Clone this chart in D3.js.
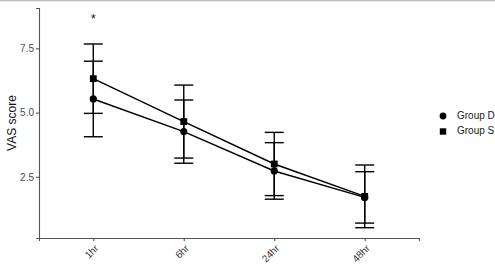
<!doctype html>
<html>
<head>
<meta charset="utf-8">
<title>VAS score</title>
<script src="https://cdnjs.cloudflare.com/ajax/libs/d3/7.8.5/d3.min.js"></script>
<style>
  body { margin: 0; background: #fff; }
  svg { display: block; font-family: "Liberation Sans", Arial, sans-serif; }
</style>
</head>
<body>
<div id="chart"></div>
<script>
// time points
const times = ['1hr', '6hr', '24hr', '48hr'];
// group means and sd
const groupD = [5.53, 4.26, 2.73, 1.70];
const groupDsd = [1.47, 1.23, 1.10, 1.00];
const groupS = [6.32, 4.65, 3.00, 1.74];
const groupSsd = [1.35, 1.42, 1.23, 1.22];
const yTicks = [2.5, 5.0, 7.5];
const starAt = { time: '1hr', value: 8.62 };

const width = 495, height = 269;
const svg = d3.select('#chart').append('svg')
  .attr('width', width).attr('height', height);

// grey border line at the very top of the image
svg.append('line').attr('x1', 0).attr('x2', width).attr('y1', 0.5).attr('y2', 0.5)
  .attr('stroke', '#bdbdbd').attr('stroke-width', 1.5);

const m = { left: 39, right: 419, top: 8, bottom: 238 };

const x = d3.scalePoint().domain(times).range([m.left, m.right]).padding(0.6);
const y = d3.scaleLinear().domain([0.12, 9.07]).range([m.bottom, m.top]);

// axes
const yAxis = svg.append('g').attr('transform', `translate(${m.left},0)`)
  .call(d3.axisLeft(y).tickValues(yTicks).tickFormat(d3.format('.1f')).tickSize(3).tickPadding(2));
const xAxis = svg.append('g').attr('transform', `translate(0,${m.bottom})`)
  .call(d3.axisBottom(x).tickSize(3).tickFormat(''));
[yAxis, xAxis].forEach(g => {
  g.select('.domain').attr('stroke', '#555').attr('stroke-width', 1.1);
  g.selectAll('.tick line').attr('stroke', '#555').attr('stroke-width', 1.1);
});
yAxis.selectAll('.tick text').attr('fill', '#4d4d4d').style('font-size', '10px');

// rotated x labels
svg.selectAll('.xlab').data(times).join('text')
  .attr('class', 'xlab')
  .attr('transform', d => `translate(${x(d) + 4},${m.bottom + 9}) rotate(-45)`)
  .attr('text-anchor', 'end')
  .attr('dominant-baseline', 'middle')
  .attr('fill', '#3a3a3a')
  .style('font-size', '10px')
  .text(d => d);

// y title
svg.append('text')
  .attr('transform', `translate(16,${(m.top + m.bottom) / 2}) rotate(-90)`)
  .attr('text-anchor', 'middle')
  .style('font-size', '12px')
  .attr('fill', '#111')
  .text('VAS score');

const series = [
  { name: 'Group D', mean: groupD, sd: groupDsd, shape: 'circle' },
  { name: 'Group S', mean: groupS, sd: groupSsd, shape: 'square' }
];

const capW = 9.5;
series.forEach(s => {
  const g = svg.append('g');
  // error bars
  times.forEach((t, i) => {
    const lo = y(s.mean[i] - s.sd[i]), hi = y(s.mean[i] + s.sd[i]);
    g.append('line').attr('x1', x(t)).attr('x2', x(t)).attr('y1', lo).attr('y2', hi)
      .attr('stroke', '#000').attr('stroke-width', 1.4);
    [lo, hi].forEach(v => g.append('line')
      .attr('x1', x(t) - capW).attr('x2', x(t) + capW).attr('y1', v).attr('y2', v)
      .attr('stroke', '#000').attr('stroke-width', 1.4));
  });
  // connecting line
  g.append('path')
    .datum(times.map((t, i) => [x(t), y(s.mean[i])]))
    .attr('d', d3.line())
    .attr('fill', 'none').attr('stroke', '#000').attr('stroke-width', 1.5);
  // points
  times.forEach((t, i) => {
    if (s.shape === 'circle') {
      g.append('circle').attr('cx', x(t)).attr('cy', y(s.mean[i])).attr('r', 3.6).attr('fill', '#000');
    } else {
      g.append('rect').attr('x', x(t) - 3.4).attr('y', y(s.mean[i]) - 3.4)
        .attr('width', 6.8).attr('height', 6.8).attr('fill', '#000');
    }
  });
});

// significance marker
svg.append('text')
  .attr('x', x(starAt.time)).attr('y', y(starAt.value))
  .attr('text-anchor', 'middle').attr('dominant-baseline', 'middle')
  .style('font-size', '13px').attr('fill', '#222')
  .text('*');

// legend
const legend = svg.append('g').attr('transform', 'translate(443,116)');
series.forEach((s, i) => {
  const ly = i * 15.5;
  if (s.shape === 'circle') {
    legend.append('circle').attr('cx', 0).attr('cy', ly).attr('r', 3.4).attr('fill', '#000');
  } else {
    legend.append('rect').attr('x', -3.2).attr('y', ly - 3.2).attr('width', 6.4).attr('height', 6.4).attr('fill', '#000');
  }
  legend.append('text').attr('x', 14).attr('y', ly).attr('dominant-baseline', 'middle')
    .style('font-size', '10px').attr('fill', '#222').text(s.name);
});
</script>
</body>
</html>
